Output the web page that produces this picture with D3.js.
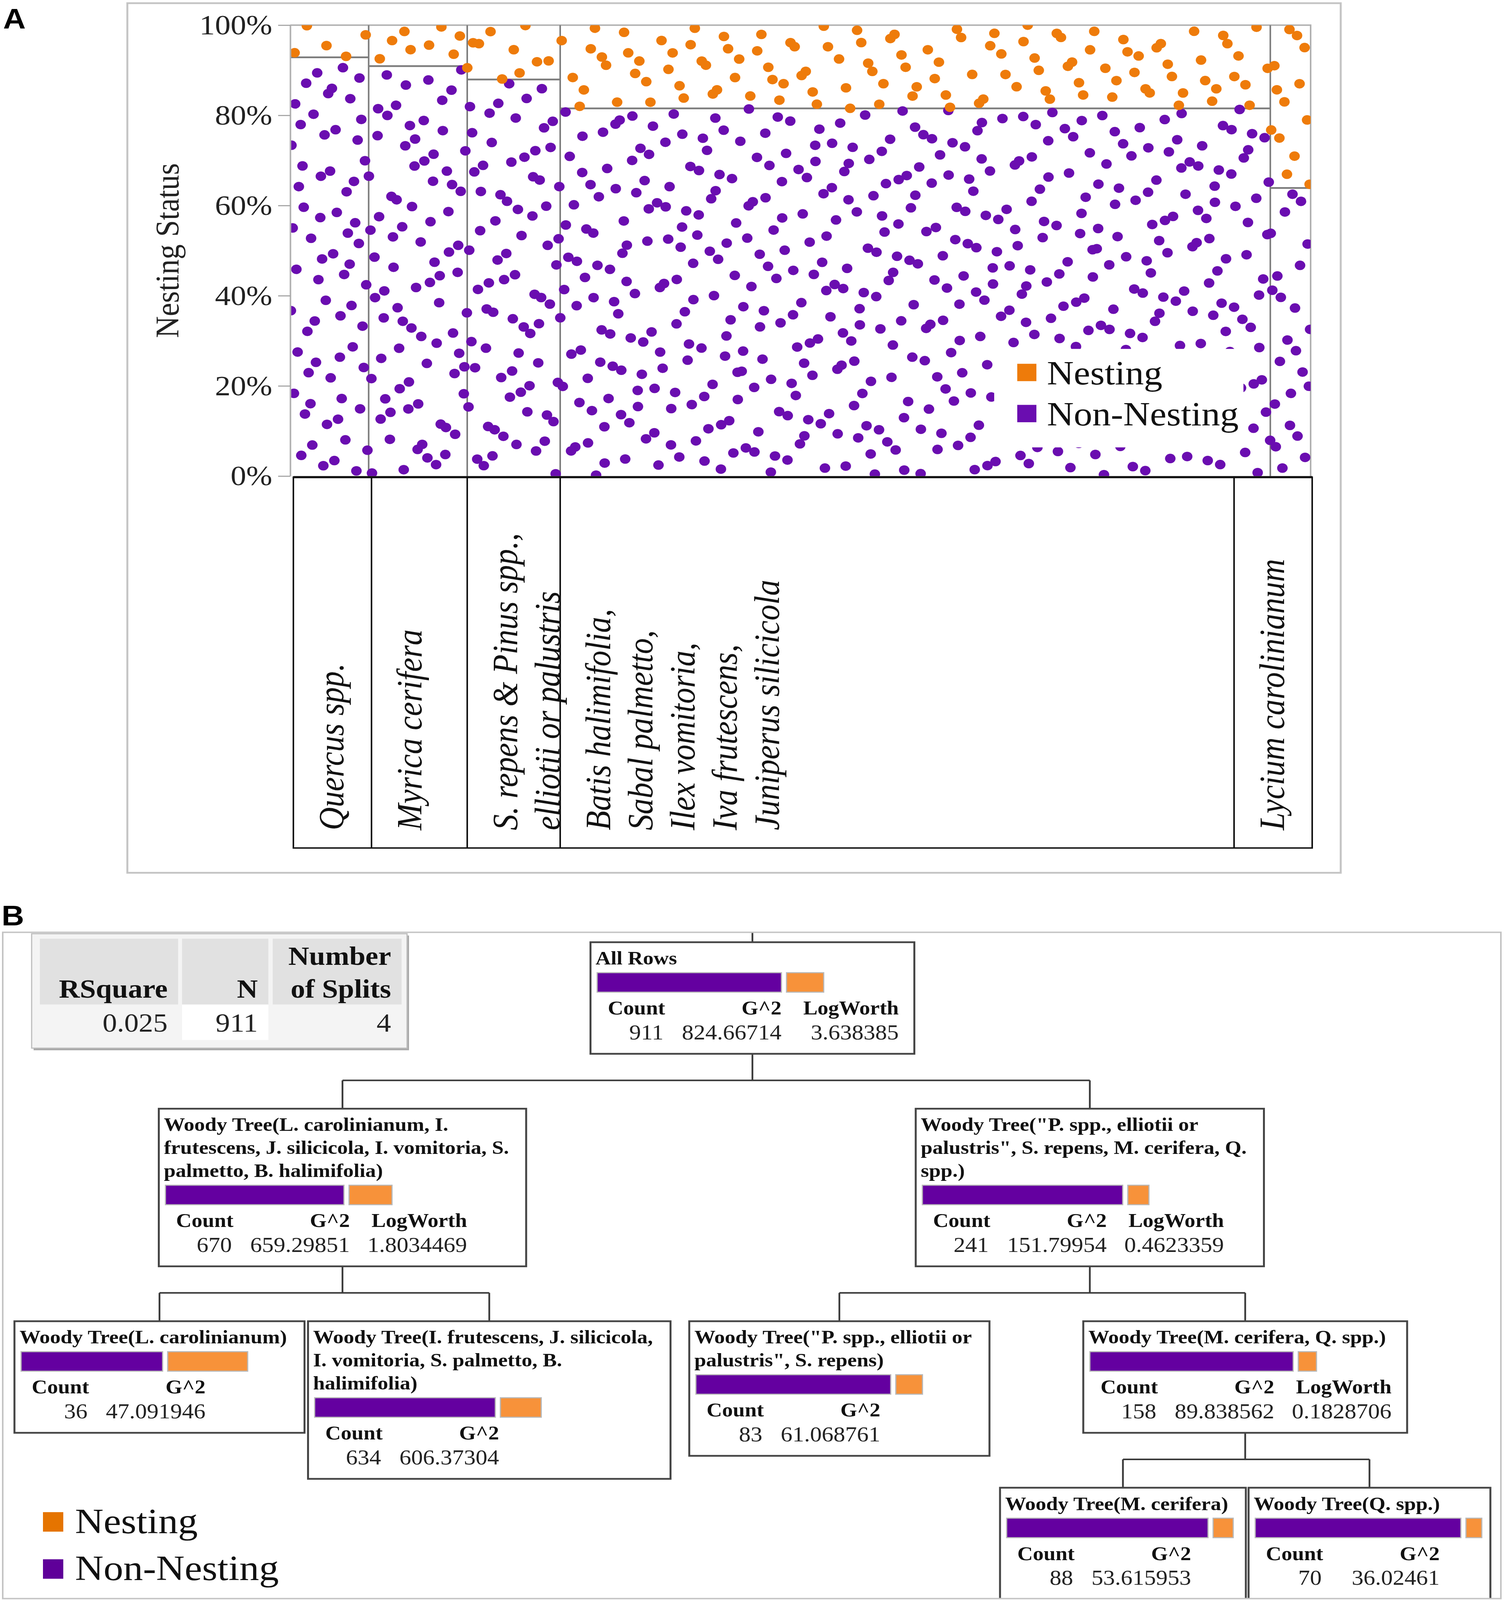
<!DOCTYPE html>
<html>
<head>
<meta charset="utf-8">
<script src="https://cdnjs.cloudflare.com/ajax/libs/d3/7.8.5/d3.min.js"></script>
<style>
  html, body { margin: 0; background: #fff; overflow: hidden; }
  svg { display: block; }
</style>
</head>
<body>
<svg id="fig"></svg>
<script>
const SERIF = "'Liberation Serif', 'Times New Roman', serif";
const SANS = "'Liberation Sans', Arial, sans-serif";
const ORANGE = "#ee7b0a", PURPLE = "#6a0db0";
const BAR_ORANGE = "#f7923a", BAR_PURPLE = "#6400a0";

// ---- panel A data (mosaic of nesting status by woody tree group)
const species = ["Quercus spp.", "Myrica cerifera", "S. repens & Pinus spp., elliotii or palustris",
  "Batis halimifolia, Sabal palmetto, Ilex vomitoria, Iva frutescens, Juniperus silicicola", "Lycium carolinianum"];
const speciesLabelLines = [
  ["Quercus spp."],
  ["Myrica cerifera"],
  ["S. repens & Pinus spp.,", "elliotii or palustris"],
  ["Batis halimifolia,", "Sabal palmetto,", "Ilex vomitoria,", "Iva frutescens,", "Juniperus silicicola"],
  ["Lycium carolinianum"]
];
const nestingCounts = [5, 8, 10, 117, 13];
const nonNestingCounts = [65, 80, 73, 517, 23];
const statusNames = ["Nesting", "Non-Nesting"];
const yTickValues = [0, 0.2, 0.4, 0.6, 0.8, 1];

// ---- panel B data (partition tree)
const summaryHeaders = [["RSquare"], ["N"], ["Number", "of Splits"]];
const summaryValues = ["0.025", "911", "4"];

const nodeIds = ["all", "lc_group", "lc", "if", "pq_group", "ps", "mq", "m", "q"];
const nodeParents = [null, "all", "lc_group", "lc_group", "all", "pq_group", "pq_group", "mq", "mq"];
const nodeTitles = [
  ["All Rows"],
  ["Woody Tree(L. carolinianum, I.", "frutescens, J. silicicola, I. vomitoria, S.", "palmetto, B. halimifolia)"],
  ["Woody Tree(L. carolinianum)"],
  ["Woody Tree(I. frutescens, J. silicicola,", "I. vomitoria, S. palmetto, B.", "halimifolia)"],
  ["Woody Tree(\"P. spp., elliotii or", "palustris\", S. repens, M. cerifera, Q.", "spp.)"],
  ["Woody Tree(\"P. spp., elliotii or", "palustris\", S. repens)"],
  ["Woody Tree(M. cerifera, Q. spp.)"],
  ["Woody Tree(M. cerifera)"],
  ["Woody Tree(Q. spp.)"]
];
const nodeCounts = [911, 670, 36, 634, 241, 83, 158, 88, 70];
const nodeNesting = [153, 130, 13, 117, 23, 10, 13, 8, 5];
const nodeG2 = ["824.66714", "659.29851", "47.091946", "606.37304", "151.79954", "61.068761", "89.838562", "53.615953", "36.02461"];
const nodeLogWorth = ["3.638385", "1.8034469", null, null, "0.4623359", null, "0.1828706", null, null];

// the figure is drawn in a 3850x4517 frame and fitted to the window
const W = 3850, H = 4517;
const svg = d3.select("#fig")
  .attr("viewBox", `0 0 ${W} ${H}`)
  .attr("preserveAspectRatio", "none")
  .attr("width", window.innerWidth || W)
  .attr("height", window.innerHeight || H);

// quasi-random jitter (like JMP's point jitter inside mosaic cells)
function halton(i, b) {
  let f = 1, r = 0;
  while (i > 0) { f /= b; r += f * (i % b); i = Math.floor(i / b); }
  return r;
}

// =================== PANEL A ===================
const plot = { left: 743, right: 3355, top: 71, bottom: 1344 };
const totals = species.map((s, i) => nestingCounts[i] + nonNestingCounts[i]);
const grand = d3.sum(totals);
const cum = [0, ...d3.cumsum(totals)];

const x = d3.scaleLinear().domain([0, grand]).range([plot.left, plot.right]);
const y = d3.scaleLinear().domain([0, 1]).range([plot.bottom, plot.top]);

svg.append("rect")
  .attr("x", 326).attr("y", 9).attr("width", 3106).attr("height", 2455)
  .attr("fill", "none").attr("stroke", "#c4c4c4").attr("stroke-width", 5);

svg.append("text").attr("x", 8).attr("y", 81)
  .style("font-family", SANS).style("font-weight", "bold").style("font-size", "80px")
  .text("A");

svg.append("clipPath").attr("id", "plotClip").append("rect")
  .attr("x", plot.left).attr("y", plot.top)
  .attr("width", plot.right - plot.left).attr("height", plot.bottom - plot.top);

// plot frame
svg.append("path")
  .attr("d", `M${plot.left},${plot.top}H${plot.right}V${plot.bottom}`)
  .attr("fill", "none").attr("stroke", "#b0b0b0").attr("stroke-width", 4);

const gA = svg.append("g");

// column dividers
gA.selectAll("line.col")
  .data(cum.slice(1, -1))
  .enter().append("line")
  .attr("x1", d => x(d)).attr("x2", d => x(d))
  .attr("y1", plot.top).attr("y2", plot.bottom)
  .attr("stroke", "#7c7c7c").attr("stroke-width", 4);

// nesting split lines
gA.selectAll("line.split")
  .data(species)
  .enter().append("line")
  .attr("x1", (d, i) => x(cum[i])).attr("x2", (d, i) => x(cum[i + 1]))
  .attr("y1", (d, i) => y(nonNestingCounts[i] / totals[i]))
  .attr("y2", (d, i) => y(nonNestingCounts[i] / totals[i]))
  .attr("stroke", "#7c7c7c").attr("stroke-width", 5);

// one dot per observation, jittered inside its cell
const cells = [];
species.forEach((s, i) => {
  const split = nonNestingCounts[i] / totals[i];
  cells.push({ col: i, status: "Non-Nesting", n: nonNestingCounts[i], y0: 0, y1: split });
  cells.push({ col: i, status: "Nesting", n: nestingCounts[i], y0: split, y1: 1 });
});
const points = cells.flatMap((c, ci) => d3.range(c.n).map(k => {
  const idx = 7 + ci * 613 + k;
  return { col: c.col, status: c.status, u: halton(idx, 2), v: halton(idx, 3), y0: c.y0, y1: c.y1 };
}));

gA.append("g").attr("clip-path", "url(#plotClip)")
  .selectAll("circle")
  .data(points)
  .enter().append("circle")
  .attr("cx", d => x(cum[d.col] + d.u * totals[d.col]))
  .attr("cy", d => y(d.y0 + d.v * (d.y1 - d.y0)))
  .attr("r", 13.5)
  .attr("fill", d => d.status === "Nesting" ? ORANGE : PURPLE);

// y axis
const yAxis = svg.append("g")
  .attr("transform", `translate(${plot.left},0)`)
  .call(d3.axisLeft(y).tickValues(yTickValues).tickFormat(d3.format(".0%")).tickSize(31).tickPadding(15).tickSizeOuter(0));
yAxis.select(".domain").attr("stroke", "#b0b0b0").attr("stroke-width", 4);
yAxis.selectAll(".tick line").attr("stroke", "#a0a0a0").attr("stroke-width", 3);
yAxis.selectAll(".tick text")
  .attr("fill", "#222")
  .style("font-family", SERIF).style("font-size", "80px");

svg.append("text")
  .attr("transform", `translate(457,${(plot.top + plot.bottom) / 2}) rotate(-90)`)
  .attr("text-anchor", "middle")
  .style("font-family", SERIF).style("font-size", "85px").attr("fill", "#222")
  .text("Nesting Status");

// legend A
const legA = svg.append("g");
legA.append("rect").attr("x", 2545).attr("y", 985).attr("width", 638).attr("height", 278).attr("fill", "#fff");
statusNames.forEach((s, i) => {
  legA.append("rect")
    .attr("x", 2604).attr("y", 1027 + i * 116).attr("width", 49).attr("height", 49)
    .attr("fill", s === "Nesting" ? ORANGE : PURPLE);
  legA.append("text")
    .attr("x", 2680).attr("y", 1085 + i * 116)
    .style("font-family", SERIF).style("font-size", "95px").attr("fill", "#111")
    .text(s);
});

// category label boxes under the mosaic
const labelTop = 1347, labelBottom = 2394, labelMinW = 200;
const boxes = species.map((s, i) => ({ l: x(cum[i]), r: x(cum[i + 1]) }));
boxes[0].l += 8;
boxes[boxes.length - 1].r += 4;
boxes.forEach((b, i) => {
  if (b.r - b.l >= labelMinW) return;
  if (i < boxes.length - 1) { b.r = b.l + labelMinW; boxes[i + 1].l = b.r; }
  else { b.l = b.r - labelMinW; boxes[i - 1].r = b.l; }
});

const gL = svg.append("g");
gL.append("rect")
  .attr("x", boxes[0].l).attr("y", labelTop)
  .attr("width", boxes[boxes.length - 1].r - boxes[0].l).attr("height", labelBottom - labelTop)
  .attr("fill", "none").attr("stroke", "#111").attr("stroke-width", 4);
gL.append("line")
  .attr("x1", boxes[0].l).attr("x2", boxes[boxes.length - 1].r)
  .attr("y1", labelTop).attr("y2", labelTop)
  .attr("stroke", "#111").attr("stroke-width", 6);
gL.selectAll("line.sep")
  .data(boxes.slice(1))
  .enter().append("line")
  .attr("x1", d => d.l).attr("x2", d => d.l)
  .attr("y1", labelTop).attr("y2", labelBottom)
  .attr("stroke", "#111").attr("stroke-width", 4);

boxes.forEach((b, i) => {
  speciesLabelLines[i].forEach((line, j) => {
    gL.append("text")
      .attr("transform", `translate(${b.l + 128 + j * 108},${labelBottom - 50}) rotate(-90)`)
      .style("font-family", SERIF).style("font-style", "italic").style("font-size", "90px")
      .attr("fill", "#111")
      .text(line);
  });
});

// =================== PANEL B ===================
const panelB = { left: 7, right: 3842, top: 2632, bottom: 4513 };

svg.append("text").attr("x", 4).attr("y", 2613)
  .style("font-family", SANS).style("font-weight", "bold").style("font-size", "80px")
  .text("B");

svg.append("clipPath").attr("id", "clipB").append("rect")
  .attr("x", panelB.left).attr("y", panelB.top)
  .attr("width", panelB.right - panelB.left).attr("height", panelB.bottom - panelB.top);

const gB = svg.append("g").attr("clip-path", "url(#clipB)");

// summary table
const tbl = gB.append("g");
tbl.append("rect").attr("x", 86).attr("y", 2641).attr("width", 961).attr("height", 324).attr("fill", "#a8a8a8");
tbl.append("rect").attr("x", 81).attr("y", 2636).attr("width", 961).attr("height", 323)
  .attr("fill", "#f4f4f4").attr("stroke", "#bdbdbd").attr("stroke-width", 3);
const tblCols = [[102, 456], [466, 687], [698, 1028]];
tblCols.forEach((c, i) => {
  tbl.append("rect").attr("x", c[0]).attr("y", 2650).attr("width", c[1] - c[0]).attr("height", 186).attr("fill", "#e1e1e1");
  tbl.append("rect").attr("x", c[0]).attr("y", 2836).attr("width", c[1] - c[0]).attr("height", 100)
    .attr("fill", i === 1 ? "#ffffff" : "#f4f4f4");
  const lines = summaryHeaders[i];
  lines.forEach((t, j) => {
    tbl.append("text")
      .attr("x", c[1] - 27).attr("y", 2817 - (lines.length - 1 - j) * 93)
      .attr("text-anchor", "end")
      .style("font-family", SERIF).style("font-weight", "bold").style("font-size", "74px")
      .attr("fill", "#111").text(t);
  });
  tbl.append("text")
    .attr("x", c[1] - 27).attr("y", 2913)
    .attr("text-anchor", "end")
    .style("font-family", SERIF).style("font-size", "74px")
    .attr("fill", "#222").text(summaryValues[i]);
});

// tree
const treeRows = nodeIds.map((id, i) => ({
  id, parentId: nodeParents[i], title: nodeTitles[i], count: nodeCounts[i],
  nest: nodeNesting[i], nonNest: nodeCounts[i] - nodeNesting[i], g2: nodeG2[i], logWorth: nodeLogWorth[i]
}));
const root = d3.stratify().id(d => d.id).parentId(d => d.parentId)(treeRows);

const NODE = { padL: 13, line1: 63, lineH: 65, barGap: 23, barH: 55, headGap: 63, valGap: 70, bottomPad: 41, vGap: 155, connY: 75 };
const colRight = [191, 489, 789];
const TITLE_FONT = "bold 54px " + SERIF;
const barX = d3.scaleLinear().domain([0, 1]).range([0, 567]);

const ctx = document.createElement("canvas").getContext("2d");
function measure(text, font) { ctx.font = font; return ctx.measureText(text).width; }

root.each(n => {
  const d = n.data;
  const tw = d3.max(d.title, t => measure(t, TITLE_FONT));
  n.w = Math.max(NODE.padL + tw + 44, 17 + 582 + 20, (d.logWorth ? colRight[2] : colRight[1]) + 40);
  n.h = NODE.line1 + NODE.lineH * (d.title.length - 1) + NODE.barGap + NODE.barH + NODE.headGap + NODE.valGap + NODE.bottomPad;
});
root.eachBefore(n => { n.top = n.parent ? n.parent.top + n.parent.h + NODE.vGap : 2660; });

const leafGaps = [9, 48, 27, 7];
let cursor = 37;
root.leaves().forEach((l, i) => { l.left = cursor; cursor += l.w + (leafGaps[i] || 0); });
root.eachAfter(n => {
  if (n.children) {
    n.extL = d3.min(n.children, c => c.extL);
    n.extR = d3.max(n.children, c => c.extR);
    n.left = (n.extL + n.extR) / 2 - n.w / 2;
  } else {
    n.extL = n.left; n.extR = n.left + n.w;
  }
  n.cx = n.left + n.w / 2;
});

// connectors
const conn = gB.append("g").attr("fill", "none").attr("stroke", "#3a3a3a").attr("stroke-width", 4.5);
conn.append("line").attr("x1", root.cx).attr("x2", root.cx).attr("y1", panelB.top).attr("y2", root.top);
root.each(n => {
  if (!n.children) return;
  const yb = n.top + n.h, yc = yb + NODE.connY;
  const first = n.children[0], last = n.children[n.children.length - 1];
  let dPath = `M${n.cx},${yb}V${yc}M${first.cx},${yc}H${last.cx}`;
  n.children.forEach(c => { dPath += `M${c.cx},${yc}V${c.top}`; });
  conn.append("path").attr("d", dPath);
});

// nodes
const nodesG = gB.selectAll("g.node")
  .data(root.descendants())
  .enter().append("g")
  .attr("transform", d => `translate(${d.left},${d.top})`);

nodesG.append("rect")
  .attr("width", d => d.w).attr("height", d => d.h)
  .attr("fill", "#fff").attr("stroke", "#454545").attr("stroke-width", 5);

nodesG.each(function(n) {
  const g = d3.select(this);
  const d = n.data;
  d.title.forEach((t, j) => {
    g.append("text")
      .attr("x", NODE.padL).attr("y", NODE.line1 + j * NODE.lineH)
      .style("font-family", SERIF).style("font-weight", "bold").style("font-size", "54px")
      .attr("fill", "#111").text(t);
  });
  const barTop = NODE.line1 + NODE.lineH * (d.title.length - 1) + NODE.barGap;
  const wNon = barX(d.nonNest / d.count), wNest = barX(d.nest / d.count);
  g.append("rect")
    .attr("x", 17).attr("y", barTop).attr("width", wNon).attr("height", NODE.barH)
    .attr("fill", BAR_PURPLE).attr("stroke", "#b8b8b8").attr("stroke-width", 3);
  g.append("rect")
    .attr("x", 17 + wNon + 13).attr("y", barTop).attr("width", wNest).attr("height", NODE.barH)
    .attr("fill", BAR_ORANGE).attr("stroke", "#b8b8b8").attr("stroke-width", 3);

  const headY = barTop + NODE.barH + NODE.headGap;
  const valY = headY + NODE.valGap;
  const heads = ["Count", "G^2"];
  const vals = [String(d.count), d.g2];
  if (d.logWorth) { heads.push("LogWorth"); vals.push(d.logWorth); }
  heads.forEach((h, k) => {
    g.append("text")
      .attr("x", colRight[k]).attr("y", headY).attr("text-anchor", "end")
      .style("font-family", SERIF).style("font-weight", "bold").style("font-size", "55px")
      .attr("fill", "#111").text(h);
    g.append("text")
      .attr("x", colRight[k] - (k === 0 ? 4 : 0)).attr("y", valY).attr("text-anchor", "end")
      .style("font-family", SERIF).style("font-size", "60px")
      .attr("fill", "#222").text(vals[k]);
  });
});

// legend B
statusNames.forEach((s, i) => {
  gB.append("rect")
    .attr("x", 110).attr("y", 4269 + i * 133).attr("width", 52).attr("height", 55)
    .attr("fill", s === "Nesting" ? "#e57400" : "#5f0099");
  gB.append("text")
    .attr("x", 192).attr("y", 4328 + i * 133)
    .style("font-family", SERIF).style("font-size", "101px").attr("fill", "#111")
    .text(s);
});

// panel B frame
svg.append("rect")
  .attr("x", panelB.left).attr("y", panelB.top)
  .attr("width", panelB.right - panelB.left).attr("height", panelB.bottom - panelB.top)
  .attr("fill", "none").attr("stroke", "#c4c4c4").attr("stroke-width", 4);
</script>
</body>
</html>
